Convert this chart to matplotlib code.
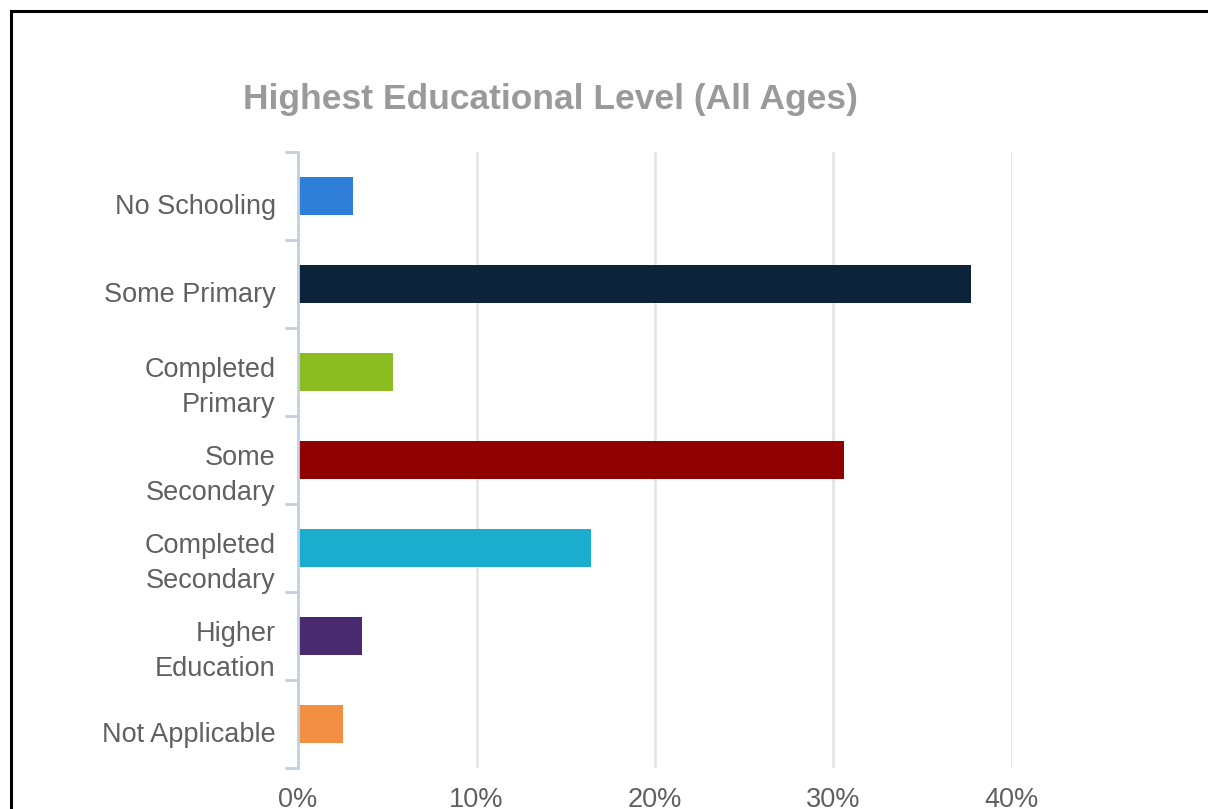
import matplotlib
matplotlib.use("Agg")
import matplotlib.pyplot as plt
from matplotlib.lines import Line2D
from matplotlib.ticker import FixedLocator, FuncFormatter
from matplotlib.transforms import ScaledTranslation

categories = ["No Schooling", "Some Primary", "Completed\nPrimary", "Some\nSecondary",
              "Completed\nSecondary", "Higher\nEducation", "Not Applicable"]
values = [3.1, 37.7, 5.3, 30.6, 16.4, 3.6, 2.5]
colors = ["#2f7ed8", "#0d233a", "#8bbc21", "#910000", "#1aadce", "#492970", "#f28f43"]
xticks = [0, 10, 20, 30, 40]
title = "Highest Educational Level (All Ages)"

plt.rcParams['font.family'] = ['Liberation Sans', 'DejaVu Sans']

W, H = 1208, 809
fig = plt.figure(figsize=(W / 100, H / 100), dpi=100)
fig.patch.set_facecolor("white")

ax = fig.add_axes([298 / W, 1 - 768 / H, (1012 - 298) / W, (768 - 152) / H])
n = len(categories)
pos = list(range(n))
ax.barh(pos, values, height=0.43, color=colors, zorder=3)
ax.set_ylim(n - 0.5, -0.5)
ax.set_xlim(0, 40)

for s in ["top", "right", "bottom"]:
    ax.spines[s].set_visible(False)
ax.spines["left"].set_color("#c0d0e0")
ax.spines["left"].set_linewidth(2)
ax.spines["left"].set_zorder(4)

ax.set_yticks(pos)
ax.set_yticklabels(categories, fontsize=19.5, color="#606060", linespacing=1.45, ha="right")
ax.tick_params(axis="y", which="major", length=0, pad=16)
ax.yaxis.set_minor_locator(FixedLocator([i - 0.5 for i in range(n + 1)]))
ax.tick_params(axis="y", which="minor", length=9.5, width=2, color="#c0d0e0")
shift = ScaledTranslation(0, -0.08, fig.dpi_scale_trans)
for lab in ax.get_yticklabels():
    lab.set_transform(lab.get_transform() + shift)

ax.set_xticks(xticks)
ax.xaxis.set_major_formatter(FuncFormatter(lambda v, p: f"{int(v)}%"))
ax.tick_params(axis="x", length=0, pad=14, labelsize=19.5, labelcolor="#606060")
for v in xticks[1:]:
    ax.axvline(v, color="#e6e6e6", lw=2, zorder=1)

fig.text(550 / W, 1 - 99 / H, title, ha="center", va="center", fontsize=25.5,
         fontweight="bold", color="#9a9a9a")

fig.add_artist(Line2D([10.5 / W, 10.5 / W], [0, 1 - 11 / H], transform=fig.transFigure,
                      color="black", lw=2.2))
fig.add_artist(Line2D([10.5 / W, 1], [1 - 11 / H, 1 - 11 / H], transform=fig.transFigure,
                      color="black", lw=2.2))

fig.savefig("out.png", dpi=100, facecolor="white")
